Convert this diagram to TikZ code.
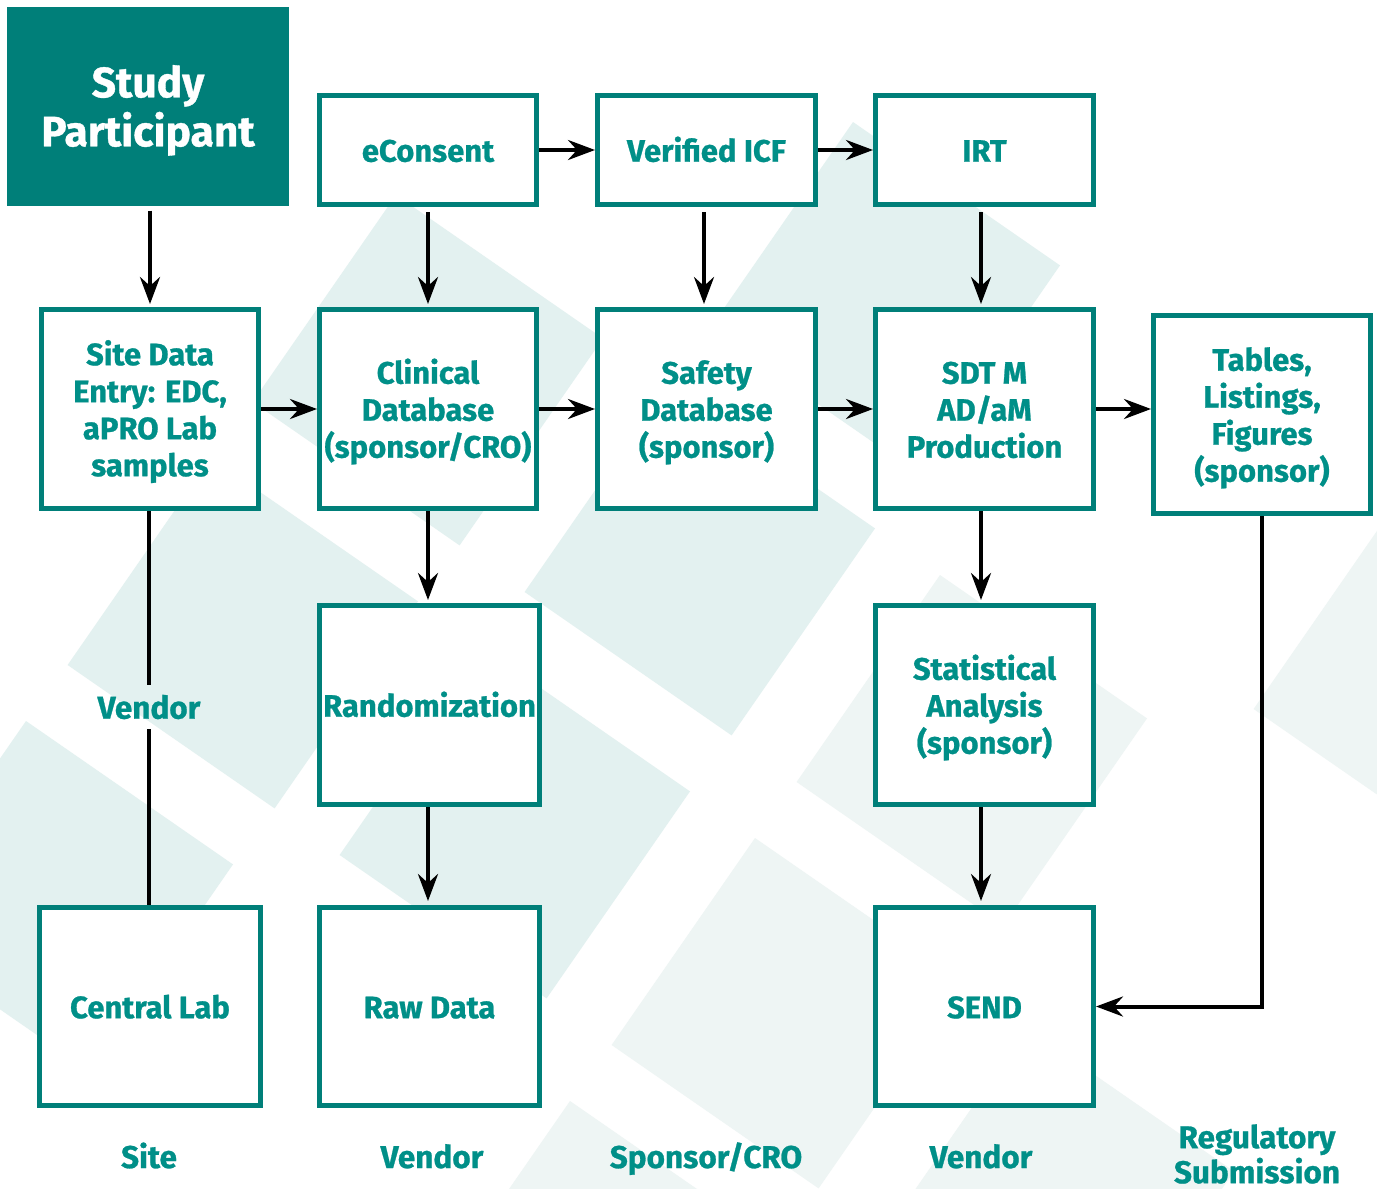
\documentclass[tikz,border=0pt]{standalone}
\usepackage{fontspec}
\setmainfont{Fira Sans}[BoldFeatures={FakeBold=0.8}]
\usetikzlibrary{arrows.meta}
\definecolor{tealb}{HTML}{007F79}
\definecolor{tealt}{HTML}{008F88}
\definecolor{bgA}{HTML}{E3F1F0}
\definecolor{bgB}{HTML}{EEF5F4}
\newcommand\topst{\rule{0pt}{32pt}}
\newcommand\botst{\rule[-8.6pt]{0pt}{8.6pt}}
\begin{document}
\begin{tikzpicture}[x=1pt,y=-1pt,
  box/.style={draw=tealb, line width=5pt, fill=white, text=tealt,
    font=\bfseries\fontsize{31}{37}\selectfont, align=center, inner sep=0pt},
  spbox/.style={fill=tealb, text=white, font=\bfseries\fontsize{42.5}{49}\selectfont,
    align=center, inner sep=0pt, minimum width=282pt, minimum height=199pt},
  arr/.style={line width=4pt, -{Stealth[length=27pt,width=20pt,inset=9pt]}},
  plain/.style={line width=4pt},
  lbl/.style={text=tealt, font=\bfseries\fontsize{31.5}{35}\selectfont, align=center, inner sep=0pt}
]
\useasboundingbox (0,0) rectangle (1377,1189);
\fill[white] (0,0) rectangle (1377,1189);
% background squares
\begin{scope}
\clip (0,0) rectangle (1377,1189);
\foreach \tx/\ty/\c in {396/195/bgA, 853/122/bgA, 668/385/bgA, 211/458/bgA, 483/648/bgA, 26/721/bgA,
  940/575/bgB, 755/838/bgB, 1397/502/bgB, 1027/1028/bgB, 570/1101/bgB}{
  \fill[\c] (\tx,\ty) -- ++(207,143.4) -- ++(-143.4,207) -- ++(-207,-143.4) -- cycle;
}
\end{scope}
% nodes
\node[spbox] (sp) at (148,106) {\rule{0pt}{41pt}Study\\Participant\rule[-7pt]{0pt}{7pt}};
\node[box, minimum width=217pt, minimum height=109pt] (econ) at (428,150) {\topst eConsent\botst};
\node[box, minimum width=218pt, minimum height=109pt] (vicf) at (706.5,150) {\topst Verified ICF\botst};
\node[box, minimum width=218pt, minimum height=109pt] (irt) at (984.5,150) {\topst IRT\botst};
\node[box, minimum width=217pt, minimum height=199pt] (site) at (150,409) {\topst Site Data\\Entry: EDC,\\aPRO Lab\\samples\botst};
\node[box, minimum width=217pt, minimum height=199pt] (clin) at (428,409) {\topst Clinical\\Database\\(sponsor/CRO)\botst};
\node[box, minimum width=218pt, minimum height=199pt] (safe) at (706.5,409) {\topst Safety\\Database\\(sponsor)\botst};
\node[box, minimum width=218pt, minimum height=199pt] (sdtm) at (984.5,409) {\topst SDT M\\AD/aM\\Production\botst};
\node[box, minimum width=217pt, minimum height=198pt] (tlf) at (1262,414.5) {\topst Tables,\\Listings,\\Figures\\(sponsor)\botst};
\node[box, minimum width=220pt, minimum height=199pt] (rand) at (429.5,705) {\topst Randomization\botst};
\node[box, minimum width=218pt, minimum height=199pt] (stat) at (984.5,705) {\topst Statistical\\Analysis\\(sponsor)\botst};
\node[box, minimum width=221pt, minimum height=198pt] (clab) at (150,1006.5) {\topst Central Lab\botst};
\node[box, minimum width=220pt, minimum height=198pt] (raw) at (429.5,1006.5) {\topst Raw Data\botst};
\node[box, minimum width=218pt, minimum height=198pt] (send) at (984.5,1006.5) {\topst SEND\botst};
\node[lbl, minimum height=44pt] (vend1) at (149,707) {Vendor};
% bottom labels
\node[lbl, anchor=base] (lsite) at (149,1168) {Site};
\node[lbl, anchor=base] (lvend2) at (432,1168) {Vendor};
\node[lbl, anchor=base] (lspon) at (706,1168) {Sponsor/CRO};
\node[lbl, anchor=base] (lvend3) at (981,1168) {Vendor};
\node[lbl] (lreg) at (1257,1154) {Regulatory\\Submission};
% connectors
\draw[arr, shorten <=5pt, shorten >=3pt] (sp.south -| site.north) -- (site.north);
\draw[arr, shorten <=5pt, shorten >=3pt] (econ.south) -- (clin.north);
\draw[arr, shorten <=5pt, shorten >=3pt] ([xshift=-2.5pt]vicf.south) -- ([xshift=-2.5pt]safe.north);
\draw[arr, shorten <=5pt, shorten >=3pt] ([xshift=-3.5pt]irt.south) -- ([xshift=-3.5pt]sdtm.north);
\draw[arr] (econ.east) -- (vicf.west);
\draw[arr] (vicf.east) -- (irt.west);
\draw[arr] (site.east) -- (clin.west);
\draw[arr] (clin.east) -- (safe.west);
\draw[arr] (safe.east) -- (sdtm.west);
\draw[arr] (sdtm.east) -- (sdtm.east -| tlf.west);
\draw[arr, shorten >=3pt] (clin.south) -- (rand.north -| clin.south);
\draw[arr, shorten >=4pt] (rand.south -| clin.south) -- (raw.north -| clin.south);
\draw[arr, shorten >=3pt] ([xshift=-3.5pt]sdtm.south) -- ([xshift=-3.5pt]stat.north);
\draw[arr, shorten >=4pt] ([xshift=-3.5pt]stat.south) -- ([xshift=-3.5pt]send.north);
\draw[arr] (tlf.south) |- (send.east);
\draw[plain] (site.south -| vend1.north) -- (vend1.north);
\draw[plain] (vend1.south) -- (clab.north -| vend1.south);
\end{tikzpicture}
\end{document}
